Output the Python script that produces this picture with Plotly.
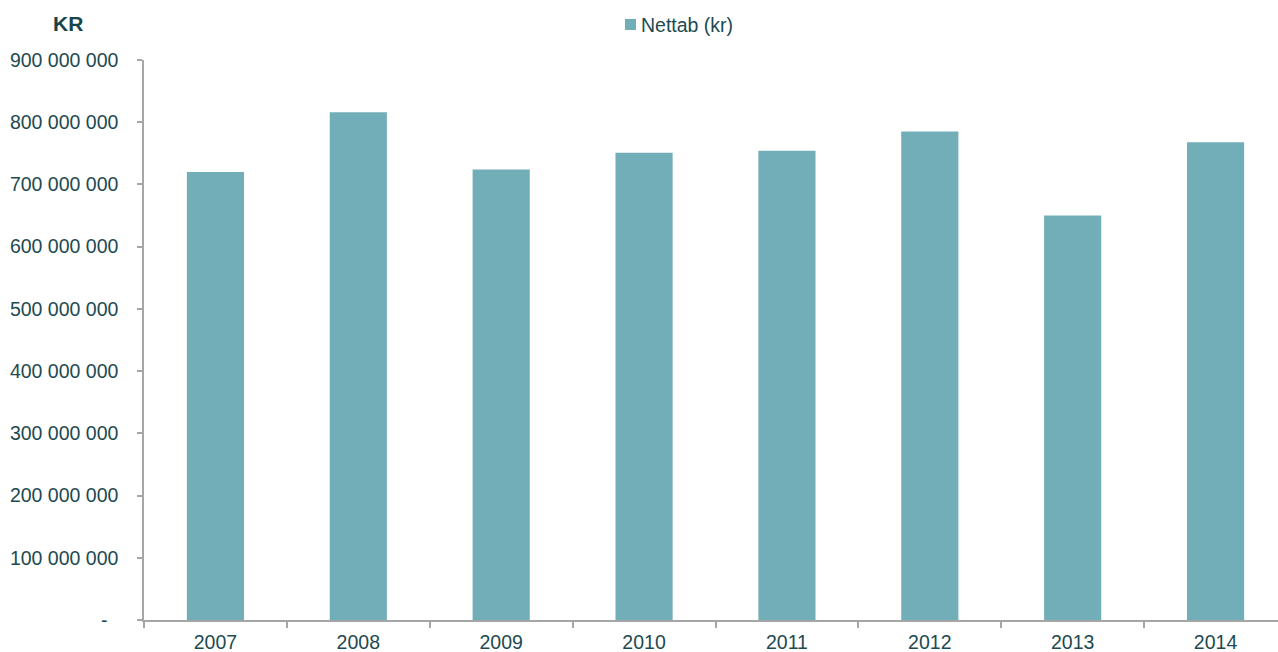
import plotly.graph_objects as go

# Annual net loss in kroner
years = ["2007", "2008", "2009", "2010", "2011", "2012", "2013", "2014"]
nettab = [720_000_000, 816_000_000, 724_000_000, 751_000_000,
          754_000_000, 785_000_000, 650_000_000, 768_000_000]
series_name = "Nettab (kr)"

y_tickvals = [0, 100_000_000, 200_000_000, 300_000_000, 400_000_000,
              500_000_000, 600_000_000, 700_000_000, 800_000_000, 900_000_000]
y_ticktext = ["-\u00a0\u00a0", "100 000 000", "200 000 000", "300 000 000", "400 000 000",
              "500 000 000", "600 000 000", "700 000 000", "800 000 000", "900 000 000"]

TEXT = "#1d4a50"
BAR = "#72aeb7"
AXIS = "#a6a6a6"
FONT = "Liberation Sans, Arial, sans-serif"

fig = go.Figure()
fig.add_trace(go.Bar(
    x=years, y=nettab, name=series_name,
    marker=dict(color=BAR, line=dict(width=0)),
    width=0.4, showlegend=False,
))

W, H = 1278, 652
L, R, T, B = 144, 0, 60, 32
PW, PH = W - L - R, H - T - B


def px_x(x):
    return (x - L) / PW


def px_y(y):
    return 1 - (y - T) / PH


fig.update_layout(
    width=W, height=H,
    margin=dict(l=L, r=R, t=T, b=B),
    paper_bgcolor="white", plot_bgcolor="white",
    font=dict(family=FONT, size=19, color=TEXT),
    showlegend=False,
    bargap=0.6,
)

fig.update_xaxes(
    type="category",
    range=[-0.5, 7.437],
    showline=True, linecolor=AXIS, linewidth=1.5,
    ticks="outside", ticklen=6, tickcolor=AXIS, tickwidth=1.5,
    tickson="boundaries", ticklabelstandoff=4,
    showgrid=False, zeroline=False,
    tickfont=dict(size=19.5, color=TEXT),
)
fig.update_yaxes(
    range=[0, 900_000_000],
    tickvals=y_tickvals, ticktext=y_ticktext,
    showline=True, linecolor=AXIS, linewidth=1.5,
    ticks="outside", ticklen=5, tickcolor=AXIS, tickwidth=1.5,
    ticklabelstandoff=15,
    showgrid=False, zeroline=False,
    tickfont=dict(size=19.5, color=TEXT),
)

# Legend key: square swatch followed by the series name
fig.add_shape(
    type="rect", xref="paper", yref="paper",
    x0=px_x(625), x1=px_x(636), y0=px_y(30), y1=px_y(19),
    fillcolor=BAR, line=dict(width=0),
)
fig.add_annotation(
    text=series_name, xref="paper", yref="paper",
    x=px_x(639), y=px_y(24.5), xanchor="left", yanchor="middle",
    showarrow=False, font=dict(size=19.5, color=TEXT, family=FONT),
)

fig.add_annotation(
    text="<b>KR</b>", xref="paper", yref="paper",
    x=px_x(67.5), y=px_y(23.5),
    xanchor="center", yanchor="middle", showarrow=False,
    font=dict(size=21, color="#17444a", family=FONT),
)

fig.write_html("out.html")
